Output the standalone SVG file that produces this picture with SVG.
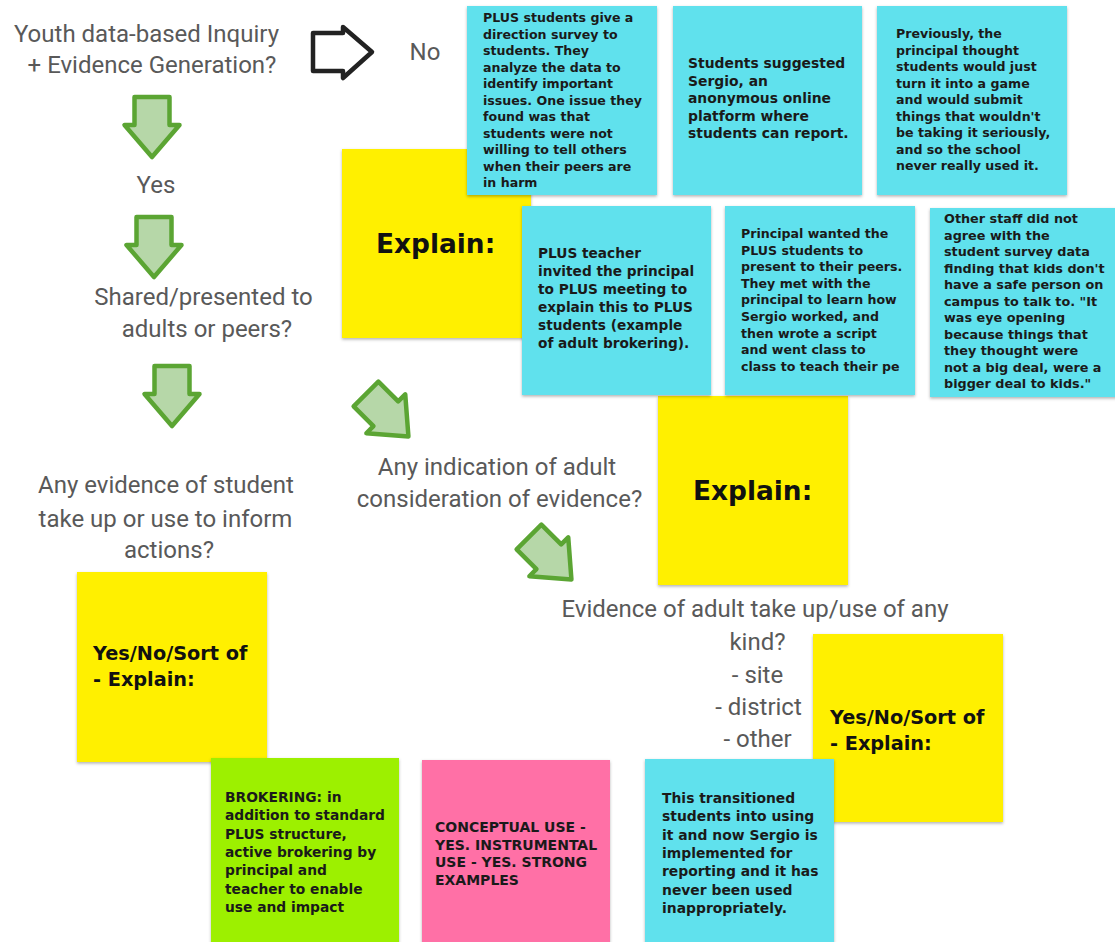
<svg xmlns="http://www.w3.org/2000/svg" width="1115" height="942" viewBox="0 0 1115 942">
<style>
.lbl{font-family:Roboto,"Liberation Sans",sans-serif;font-size:24px;fill:#595959;text-anchor:middle}
.nt{font-family:"DejaVu Sans","Liberation Sans",sans-serif;font-weight:700;font-size:12.8px;fill:#1a1a1a}
.big{font-family:"DejaVu Sans","Liberation Sans",sans-serif;font-weight:700;font-size:26.4px;fill:#111}
.mdm{font-family:"DejaVu Sans","Liberation Sans",sans-serif;font-weight:700;font-size:19.3px;fill:#111}
.cy{fill:#61e1ed}
.ye{fill:#fff000}
.gr{fill:#9df000}
.pk{fill:#ff6fa6}
.note{filter:url(#sh)}
.garrow{fill:#b6d7a8;stroke:#5ba533;stroke-width:4.5;stroke-linejoin:round}
.barrow{fill:#fff;stroke:#222;stroke-width:4.5;stroke-linejoin:round}
</style>
<defs>
<filter id="sh" x="-5%" y="-5%" width="115%" height="115%">
<feDropShadow dx="0" dy="1.5" stdDeviation="1.5" flood-color="#000" flood-opacity="0.3"/>
</filter>
<path id="dn" d="M-17.5,0 H17.5 V28 H27.5 L0,60 L-27.5,28 H-17.5 Z"/>
</defs>
<rect width="1115" height="942" fill="#fff"/>

<g id="connectors">
<path class="barrow" d="M313,33 H343 V27 L372,52 L343,78 V71 H313 Z"/>
<use href="#dn" class="garrow" transform="translate(152,97)"/>
<use href="#dn" class="garrow" transform="translate(154,217)"/>
<use href="#dn" class="garrow" transform="translate(172,366)"/>
<use href="#dn" class="garrow" transform="translate(366,394) rotate(-45)"/>
<use href="#dn" class="garrow" transform="translate(529,537) rotate(-45)"/>
</g>

<g id="q-inquiry">
<text class="lbl" x="146.5" y="42">Youth data-based Inquiry</text>
<text class="lbl" x="152" y="73">+ Evidence Generation?</text>
</g>
<g id="no"><text class="lbl" x="425" y="60">No</text></g>
<g id="yes"><text class="lbl" x="156" y="193">Yes</text></g>
<g id="q-shared">
<text class="lbl" x="203.5" y="305">Shared/presented to</text>
<text class="lbl" x="207" y="337">adults or peers?</text>
</g>
<g id="q-student">
<text class="lbl" x="166" y="493">Any evidence of student</text>
<text class="lbl" x="165.5" y="527">take up or use to inform</text>
<text class="lbl" x="169" y="558">actions?</text>
</g>
<g id="q-adult-consider">
<text class="lbl" x="497" y="475">Any indication of adult</text>
<text class="lbl" x="499.5" y="507">consideration of evidence?</text>
</g>
<g id="q-adult-use">
<text class="lbl" x="755" y="617">Evidence of adult take up/use of any</text>
<text class="lbl" x="757.5" y="650">kind?</text>
<text class="lbl" x="757.5" y="683">- site</text>
<text class="lbl" x="758.5" y="715">- district</text>
<text class="lbl" x="757.5" y="747">- other</text>
</g>

<g id="explain1">
<rect class="ye note" x="342" y="149" width="189" height="189"/>
<text class="big" x="376" y="253">Explain:</text>
</g>
<g id="note-survey">
<rect class="cy note" x="467" y="6" width="190" height="189"/>
<text class="nt" x="483" y="22" style="font-size:12.6px"><tspan x="483">PLUS students give a</tspan><tspan x="483" dy="16.5">direction survey to</tspan><tspan x="483" dy="16.5">students. They</tspan><tspan x="483" dy="16.5">analyze the data to</tspan><tspan x="483" dy="16.5">identify important</tspan><tspan x="483" dy="16.5">issues. One issue they</tspan><tspan x="483" dy="16.5">found was that</tspan><tspan x="483" dy="16.5">students were not</tspan><tspan x="483" dy="16.5">willing to tell others</tspan><tspan x="483" dy="16.5">when their peers are</tspan><tspan x="483" dy="16.5">in harm</tspan></text>
</g>
<g id="note-sergio">
<rect class="cy note" x="673" y="6" width="189" height="189"/>
<text class="nt" x="688" y="68" style="font-size:13.9px"><tspan x="688">Students suggested</tspan><tspan x="688" dy="17.5">Sergio, an</tspan><tspan x="688" dy="17.5">anonymous online</tspan><tspan x="688" dy="17.5">platform where</tspan><tspan x="688" dy="17.5">students can report.</tspan></text>
</g>
<g id="note-previously">
<rect class="cy note" x="877" y="6" width="190" height="189"/>
<text class="nt" x="896" y="38" style="font-size:12.6px"><tspan x="896">Previously, the</tspan><tspan x="896" dy="16.5">principal thought</tspan><tspan x="896" dy="16.5">students would just</tspan><tspan x="896" dy="16.5">turn it into a game</tspan><tspan x="896" dy="16.5">and would submit</tspan><tspan x="896" dy="16.5">things that wouldn't</tspan><tspan x="896" dy="16.5">be taking it seriously,</tspan><tspan x="896" dy="16.5">and so the school</tspan><tspan x="896" dy="16.5">never really used it.</tspan></text>
</g>
<g id="explain2">
<rect class="ye note" x="658" y="396" width="190" height="189"/>
<text class="big" x="693" y="500">Explain:</text>
</g>
<g id="note-teacher">
<rect class="cy note" x="522" y="206" width="189" height="189"/>
<text class="nt" x="538" y="258" style="font-size:13.7px"><tspan x="538">PLUS teacher</tspan><tspan x="538" dy="18">invited the principal</tspan><tspan x="538" dy="18">to PLUS meeting to</tspan><tspan x="538" dy="18">explain this to PLUS</tspan><tspan x="538" dy="18">students (example</tspan><tspan x="538" dy="18">of adult brokering).</tspan></text>
</g>
<g id="note-principal">
<rect class="cy note" x="725" y="206" width="190" height="189"/>
<text class="nt" x="741" y="238" style="font-size:12.6px"><tspan x="741">Principal wanted the</tspan><tspan x="741" dy="16.6">PLUS students to</tspan><tspan x="741" dy="16.6">present to their peers.</tspan><tspan x="741" dy="16.6">They met with the</tspan><tspan x="741" dy="16.6">principal to learn how</tspan><tspan x="741" dy="16.6">Sergio worked, and</tspan><tspan x="741" dy="16.6">then wrote a script</tspan><tspan x="741" dy="16.6">and went class to</tspan><tspan x="741" dy="16.6">class to teach their pe</tspan></text>
</g>
<g id="note-staff">
<rect class="cy note" x="930" y="208" width="190" height="189"/>
<text class="nt" x="944" y="223"><tspan x="944">Other staff did not</tspan><tspan x="944" dy="16.5">agree with the</tspan><tspan x="944" dy="16.5">student survey data</tspan><tspan x="944" dy="16.5">finding that kids don't</tspan><tspan x="944" dy="16.5">have a safe person on</tspan><tspan x="944" dy="16.5">campus to talk to. "It</tspan><tspan x="944" dy="16.5">was eye opening</tspan><tspan x="944" dy="16.5">because things that</tspan><tspan x="944" dy="16.5">they thought were</tspan><tspan x="944" dy="16.5">not a big deal, were a</tspan><tspan x="944" dy="16.5">bigger deal to kids."</tspan></text>
</g>
<g id="yn-student">
<rect class="ye note" x="77" y="572" width="190" height="190"/>
<text class="mdm" x="93" y="660"><tspan x="93">Yes/No/Sort of</tspan><tspan x="93" dy="26">- Explain:</tspan></text>
</g>
<g id="yn-adult">
<rect class="ye note" x="813" y="634" width="190" height="188"/>
<text class="mdm" x="830" y="724"><tspan x="830">Yes/No/Sort of</tspan><tspan x="830" dy="26">- Explain:</tspan></text>
</g>
<g id="note-brokering">
<rect class="gr note" x="211" y="758" width="188" height="190"/>
<text class="nt" x="225" y="802" style="font-size:13.8px"><tspan x="225">BROKERING: in</tspan><tspan x="225" dy="18.3">addition to standard</tspan><tspan x="225" dy="18.3">PLUS structure,</tspan><tspan x="225" dy="18.3">active brokering by</tspan><tspan x="225" dy="18.3">principal and</tspan><tspan x="225" dy="18.3">teacher to enable</tspan><tspan x="225" dy="18.3">use and impact</tspan></text>
</g>
<g id="note-use">
<rect class="pk note" x="422" y="760" width="188" height="188"/>
<text class="nt" x="435" y="832" style="font-size:14px"><tspan x="435">CONCEPTUAL USE -</tspan><tspan x="435" dy="17.7">YES. INSTRUMENTAL</tspan><tspan x="435" dy="17.7">USE - YES. STRONG</tspan><tspan x="435" dy="17.7">EXAMPLES</tspan></text>
</g>
<g id="note-transitioned">
<rect class="cy note" x="645" y="759" width="189" height="189"/>
<text class="nt" x="662" y="803" style="font-size:13.9px"><tspan x="662">This transitioned</tspan><tspan x="662" dy="18.3">students into using</tspan><tspan x="662" dy="18.3">it and now Sergio is</tspan><tspan x="662" dy="18.3">implemented for</tspan><tspan x="662" dy="18.3">reporting and it has</tspan><tspan x="662" dy="18.3">never been used</tspan><tspan x="662" dy="18.3">inappropriately.</tspan></text>
</g>
</svg>
